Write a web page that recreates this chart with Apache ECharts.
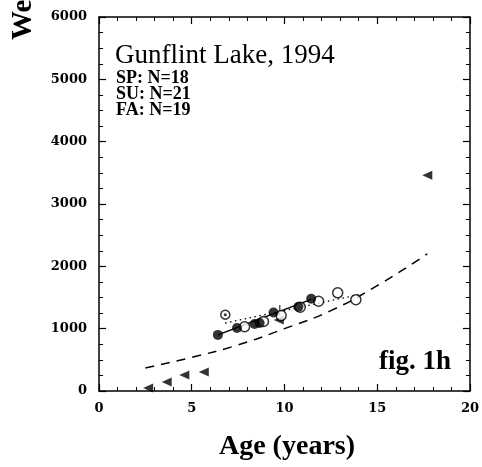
<!DOCTYPE html>
<html>
<head>
<meta charset="utf-8">
<script src="https://cdn.jsdelivr.net/npm/echarts@6/dist/echarts.min.js"></script>
<style>
html, body { margin: 0; padding: 0; background: #fff; }
#chart { width: 482px; height: 467px; }
</style>
</head>
<body>
<div id="chart"></div>
<script>
// values (age in years, weight in g)
var filledPts = [[6.41, 900], [7.44, 1010], [8.39, 1075], [8.66, 1090], [9.41, 1260], [10.75, 1350], [11.44, 1480]];
var openPts = [[7.85, 1030], [8.87, 1115], [9.82, 1210], [10.85, 1345], [11.84, 1440], [12.87, 1575], [13.85, 1465]];
var dotPts = [[6.81, 1225]];
var triPts = [[2.65, 50], [3.65, 145], [4.6, 255], [5.65, 305], [9.69, 1140], [17.7, 3460]];
var solidFit = [[6.41, 900], [11.44, 1470]];
var dottedFit = [[6.8, 1090], [14.0, 1545]];
var dashedFit = [[2.5, 370], [5, 540], [7.5, 740], [10, 1000], [12.5, 1290], [15, 1690], [17.7, 2200]];
var errBar = [[9.75, 1200], [9.75, 1380]];

var xTicks = [0, 5, 10, 15, 20];
var yTicks = [0, 1000, 2000, 3000, 4000, 5000, 6000];

var chart = echarts.init(document.getElementById('chart'));

function axisBase(pos, isX, showLabel) {
    return {
        type: 'value',
        position: pos,
        min: isX ? xTicks[0] : yTicks[0],
        max: isX ? xTicks[xTicks.length - 1] : yTicks[yTicks.length - 1],
        interval: isX ? 5 : 1000,
        axisLine: { show: true, onZero: false, lineStyle: { color: '#000', width: 1.5 } },
        axisTick: { show: true, inside: true, length: 7, lineStyle: { color: '#000', width: 1.2 } },
        minorTick: { show: true, splitNumber: isX ? 5 : 4, length: 4, lineStyle: { color: '#000', width: 1 } },
        splitLine: { show: false },
        axisLabel: {
            show: showLabel,
            color: '#000',
            fontFamily: 'DejaVu Serif',
            fontWeight: 'bold',
            fontSize: 13,
            margin: isX ? 11 : 12,
            formatter: function (v) { return String(v); }
        }
    };
}

var option = {
    animation: false,
    backgroundColor: '#fff',
    grid: { left: 99, right: 10, top: 17, bottom: 76 },
    xAxis: [axisBase('bottom', true, true), axisBase('top', true, false)],
    yAxis: [axisBase('left', false, true), axisBase('right', false, false)],
    graphic: [
        { type: 'text', x: 115, y: 42, style: { text: 'Gunflint Lake, 1994', font: '27px "Liberation Serif"', fill: '#000' } },
        { type: 'text', x: 116, y: 69, style: { text: 'SP: N=18', font: 'bold 18px "Liberation Serif"', fill: '#000' } },
        { type: 'text', x: 116, y: 85, style: { text: 'SU: N=21', font: 'bold 18px "Liberation Serif"', fill: '#000' } },
        { type: 'text', x: 116, y: 101, style: { text: 'FA: N=19', font: 'bold 18px "Liberation Serif"', fill: '#000' } },
        { type: 'text', x: 379, y: 349, style: { text: 'fig. 1h', font: 'bold 27px "Liberation Serif"', fill: '#000' } },
        { type: 'text', x: 287, y: 447, style: { text: 'Age (years)', font: 'bold 28px "Liberation Serif"', fill: '#000', align: 'center', verticalAlign: 'middle' } },
        { type: 'text', x: 24, y: 40, rotation: Math.PI / 2, style: { text: 'Weight (g)', font: 'bold 29px "Liberation Serif"', fill: '#000', align: 'left', verticalAlign: 'middle' } }
    ],
    series: [
        { type: 'line', data: dashedFit, smooth: true, symbol: 'none', lineStyle: { color: '#000', width: 1.5, type: [9, 7] }, z: 1 },
        { type: 'line', data: dottedFit, symbol: 'none', lineStyle: { color: '#000', width: 1.3, type: [1.5, 3.5] }, z: 1 },
        { type: 'line', data: solidFit, symbol: 'none', lineStyle: { color: '#000', width: 1.5 }, z: 1 },
        { type: 'line', data: errBar, symbol: 'none', lineStyle: { color: '#000', width: 1 }, z: 1 },
        { type: 'scatter', data: triPts, symbol: 'triangle', symbolSize: [9, 10], symbolRotate: 90, itemStyle: { color: '#000' }, z: 3 },
        { type: 'scatter', data: openPts, symbol: 'circle', symbolSize: 10, itemStyle: { color: '#fff', borderColor: '#000', borderWidth: 1.5 }, z: 3 },
        { type: 'scatter', data: filledPts, symbol: 'circle', symbolSize: 10, itemStyle: { color: '#000' }, z: 4 },
        { type: 'scatter', data: dotPts, symbol: 'circle', symbolSize: 9, itemStyle: { color: '#fff', borderColor: '#000', borderWidth: 1.5 }, z: 3 },
        { type: 'scatter', data: dotPts, symbol: 'circle', symbolSize: 3, itemStyle: { color: '#000' }, z: 4 }
    ]
};
chart.setOption(option);
</script>
</body>
</html>
